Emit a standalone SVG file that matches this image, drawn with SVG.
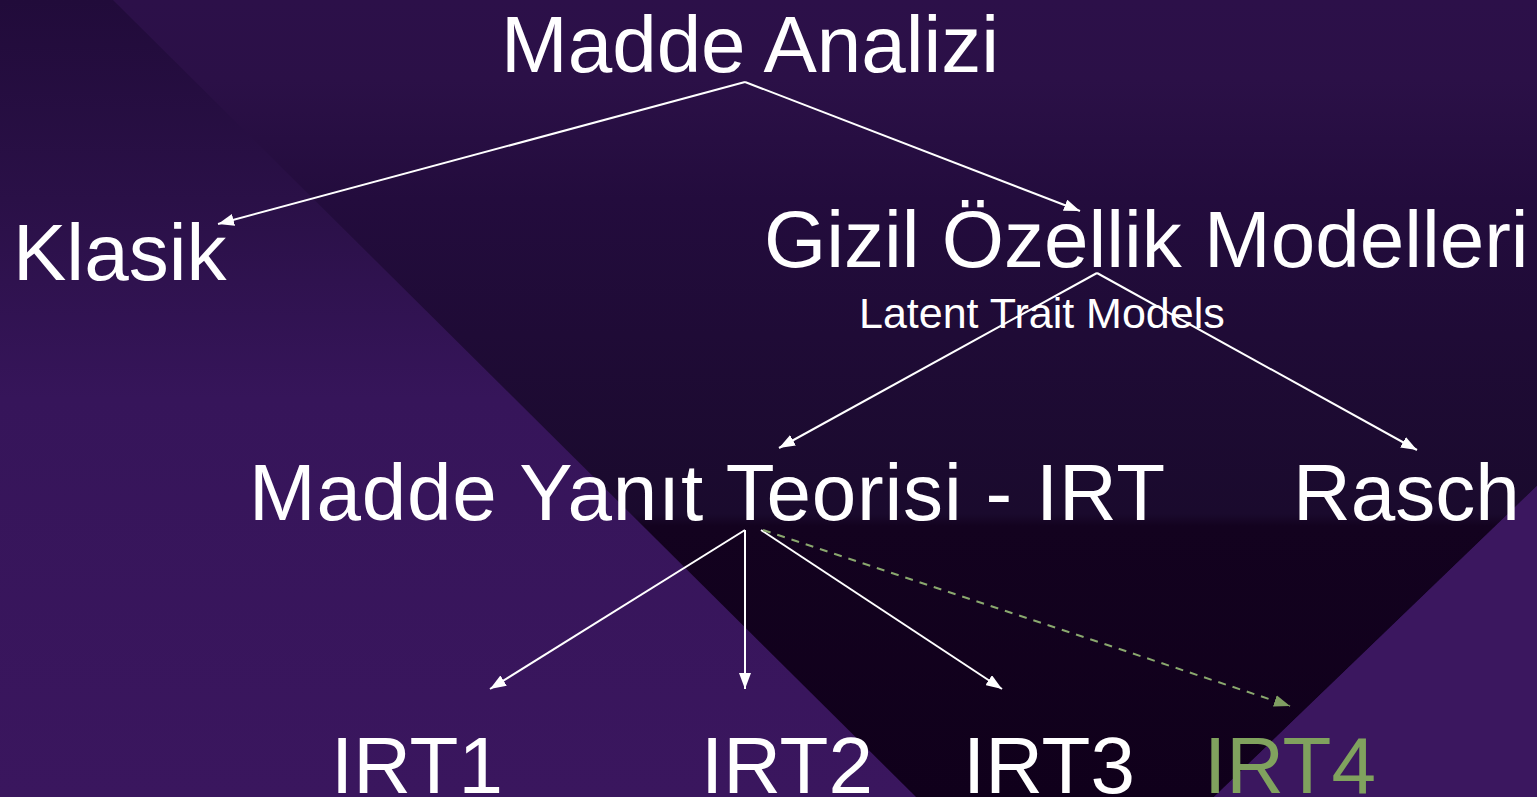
<svg xmlns="http://www.w3.org/2000/svg" width="1537" height="797" viewBox="0 0 1537 797">
<defs>
<style>
.t{font-family:"Liberation Sans",Arial,sans-serif;fill:#ffffff;font-size:80px}
.s{font-size:43px}
.g{fill:#80a25e}
.c{stroke:#ffffff;stroke-width:2;fill:none}
.d{stroke:#8aa86e;stroke-width:2;fill:none;stroke-dasharray:8 7}
</style>
<linearGradient id="gl" x1="0" y1="0" x2="0" y2="797" gradientUnits="userSpaceOnUse">
<stop offset="0" stop-color="#210b3a"/>
<stop offset="0.25" stop-color="#2a1047"/>
<stop offset="0.5" stop-color="#36155a"/>
<stop offset="1" stop-color="#3a165e"/>
</linearGradient>
<linearGradient id="gd" x1="0" y1="0" x2="0" y2="797" gradientUnits="userSpaceOnUse">
<stop offset="0" stop-color="#2c1049"/>
<stop offset="0.1" stop-color="#2b1047"/>
<stop offset="0.25" stop-color="#230c3d"/>
<stop offset="0.42" stop-color="#1f0b36"/>
<stop offset="0.645" stop-color="#1a0a2d"/>
<stop offset="0.66" stop-color="#13021f"/>
<stop offset="1" stop-color="#10001b"/>
</linearGradient>
<marker id="aw" viewBox="0 0 16 12" refX="16" refY="6" markerWidth="16" markerHeight="12" markerUnits="userSpaceOnUse" orient="auto">
<path d="M0,0 L16,6 L0,12 z" fill="#ffffff"/>
</marker>
<marker id="ag" viewBox="0 0 16 12" refX="16" refY="6" markerWidth="16" markerHeight="12" markerUnits="userSpaceOnUse" orient="auto">
<path d="M0,0 L16,6 L0,12 z" fill="#7f9e62"/>
</marker>
</defs>
<g id="background">
<rect x="0" y="0" width="1537" height="797" fill="url(#gl)"/>
<polygon points="113,0 1537,0 1537,486 1214,797 916,797" fill="url(#gd)"/>
<polygon points="1537,486 1537,797 1214,797" fill="#3b175f"/>
</g>
<g id="connectors">
<line class="c" x1="745" y1="82" x2="218" y2="224" marker-end="url(#aw)"/>
<line class="c" x1="745" y1="82" x2="1080" y2="211" marker-end="url(#aw)"/>
<line class="c" x1="1097" y1="273" x2="779" y2="448" marker-end="url(#aw)"/>
<line class="c" x1="1097" y1="273" x2="1417" y2="450" marker-end="url(#aw)"/>
<line class="c" x1="745" y1="530" x2="490" y2="689" marker-end="url(#aw)"/>
<line class="c" x1="745" y1="530" x2="745" y2="689" marker-end="url(#aw)"/>
<line class="c" x1="761" y1="530" x2="1002" y2="689" marker-end="url(#aw)"/>
<line class="d" x1="763" y1="530" x2="1290" y2="706" marker-end="url(#ag)"/>
</g>
<g id="node-madde-analizi"><text class="t" x="501" y="72">Madde Analizi</text></g>
<g id="node-klasik"><text class="t" x="13" y="280">Klasik</text></g>
<g id="node-gizil"><text class="t" x="764" y="267">Gizil Özellik Modelleri</text>
<text class="t s" x="859" y="328">Latent Trait Models</text></g>
<g id="node-myt"><text class="t" x="249" y="520" textLength="916" lengthAdjust="spacing">Madde Yanıt Teorisi - IRT</text></g>
<g id="node-rasch"><text class="t" x="1293" y="520">Rasch</text></g>
<g id="node-irt1"><text class="t" x="331" y="793">IRT1</text></g>
<g id="node-irt2"><text class="t" x="701" y="793">IRT2</text></g>
<g id="node-irt3"><text class="t" x="963" y="793">IRT3</text></g>
<g id="node-irt4"><text class="t g" x="1204" y="793">IRT4</text></g>
</svg>
